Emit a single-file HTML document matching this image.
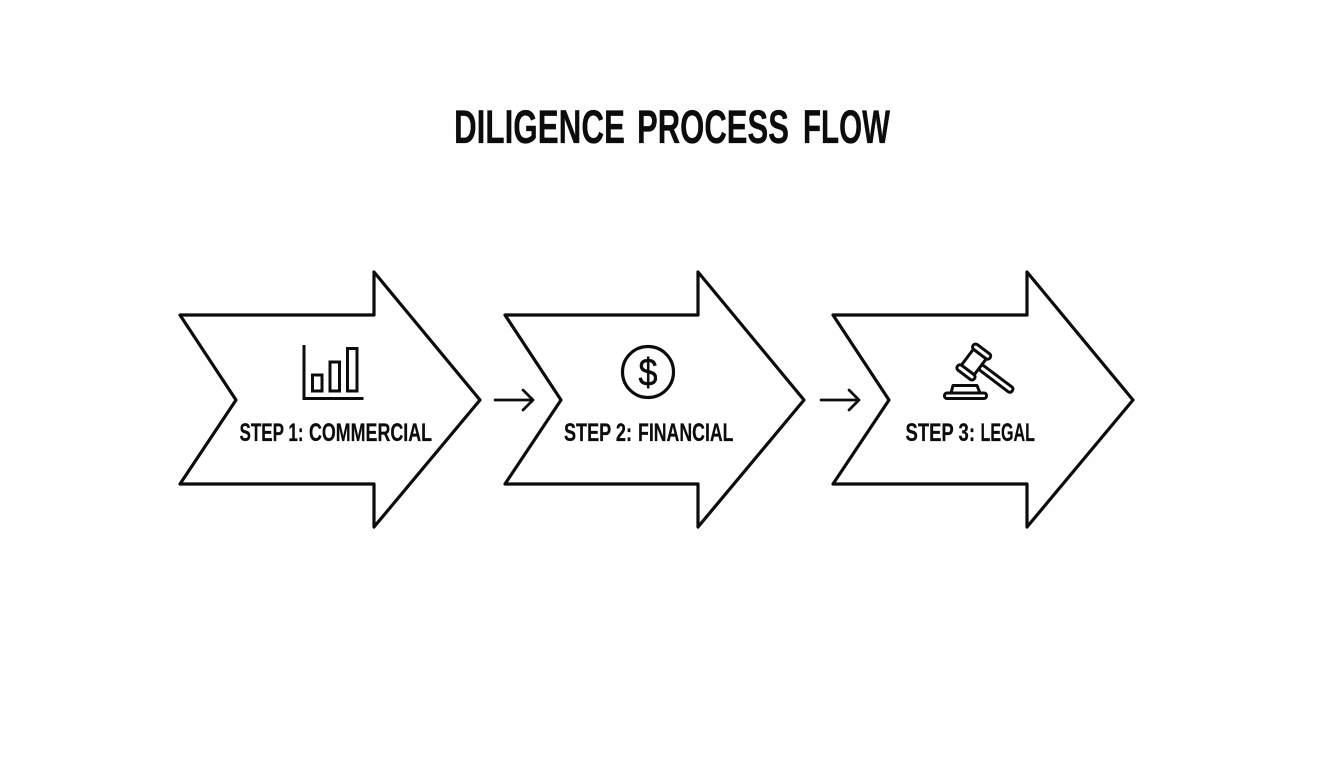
<!DOCTYPE html>
<html lang="en">
<head>
<meta charset="utf-8">
<title>Diligence Process Flow</title>
<style>
html,body{margin:0;padding:0;width:1344px;height:768px;background:#fefefe;overflow:hidden}
svg{display:block}
text{font-family:"Liberation Sans",sans-serif;font-weight:700;fill:#0c0c0c}
.l{font-size:25px;stroke:#0c0c0c;stroke-width:.25px}
.t{font-size:47px;stroke:#0c0c0c;stroke-width:.3px}
</style>
</head>
<body>
<svg width="1344" height="768" viewBox="0 0 1344 768" xmlns="http://www.w3.org/2000/svg">
  <rect width="1344" height="768" fill="#fefefe"/>

  <text class="t" x="454" y="143" textLength="171" lengthAdjust="spacingAndGlyphs">DILIGENCE</text>
  <text class="t" x="637" y="143" textLength="152" lengthAdjust="spacingAndGlyphs">PROCESS</text>
  <text class="t" x="803" y="143" textLength="87" lengthAdjust="spacingAndGlyphs">FLOW</text>

  <g fill="#ffffff" stroke="#0c0c0c" stroke-width="3.2" stroke-linejoin="round">
    <polygon points="180,315 374,315 374,272 480,400 374,527 374,484 180,484 236,400"/>
    <polygon points="505,315 698,315 698,272 804,400 698,527 698,484 505,484 561,400"/>
    <polygon points="833,315 1027,315 1027,272 1133,400 1027,527 1027,484 833,484 889,400"/>
  </g>

  <g fill="none" stroke="#0c0c0c" stroke-width="2.7" stroke-linecap="round" stroke-linejoin="round">
    <path d="M495,400H533M523,390L533,400L523,410"/>
    <path d="M821,400H859M849,390L859,400L849,410"/>
  </g>

  <!-- Chart icon -->
  <g fill="none" stroke="#0c0c0c" stroke-width="3">
    <path d="M304,345V398.500H363.500"/>
    <rect x="312.500" y="375" width="9.500" height="16"/>
    <rect x="330" y="362" width="9.500" height="29"/>
    <rect x="347.500" y="348.500" width="9.500" height="42.500"/>
  </g>

  <!-- Dollar icon -->
  <circle cx="648" cy="372" r="25.500" fill="none" stroke="#0c0c0c" stroke-width="3.2"/>
  <text x="648" y="385.500" font-size="39" text-anchor="middle" textLength="19" lengthAdjust="spacingAndGlyphs" style="font-weight:400;stroke:#0c0c0c;stroke-width:.5px">$</text>

  <!-- Gavel icon -->
  <g fill="#ffffff" stroke="#0c0c0c" stroke-width="3" stroke-linejoin="round">
    <rect x="944.500" y="393" width="42" height="5.500" rx="2.500"/>
    <path d="M951,393L953,385.500H977L980,393Z"/>
    <g transform="translate(973.800,362) rotate(37)">
      <rect x="8" y="-3" width="40" height="6" rx="2.500"/>
      <rect x="-8" y="-10" width="16" height="20"/>
      <rect x="-10.500" y="-16" width="21" height="6" rx="2.800"/>
      <rect x="-10.500" y="10" width="21" height="6" rx="2.800"/>
    </g>
  </g>

  <text class="l" x="239.500" y="441" textLength="64" lengthAdjust="spacingAndGlyphs">STEP 1:</text>
  <text class="l" x="309" y="441" textLength="123" lengthAdjust="spacingAndGlyphs">COMMERCIAL</text>
  <text class="l" x="564" y="441" textLength="68" lengthAdjust="spacingAndGlyphs">STEP 2:</text>
  <text class="l" x="638" y="441" textLength="95.500" lengthAdjust="spacingAndGlyphs">FINANCIAL</text>
  <text class="l" x="905.500" y="441" textLength="69.500" lengthAdjust="spacingAndGlyphs">STEP 3:</text>
  <text class="l" x="980.500" y="441" textLength="54.500" lengthAdjust="spacingAndGlyphs">LEGAL</text>
</svg>
</body>
</html>
